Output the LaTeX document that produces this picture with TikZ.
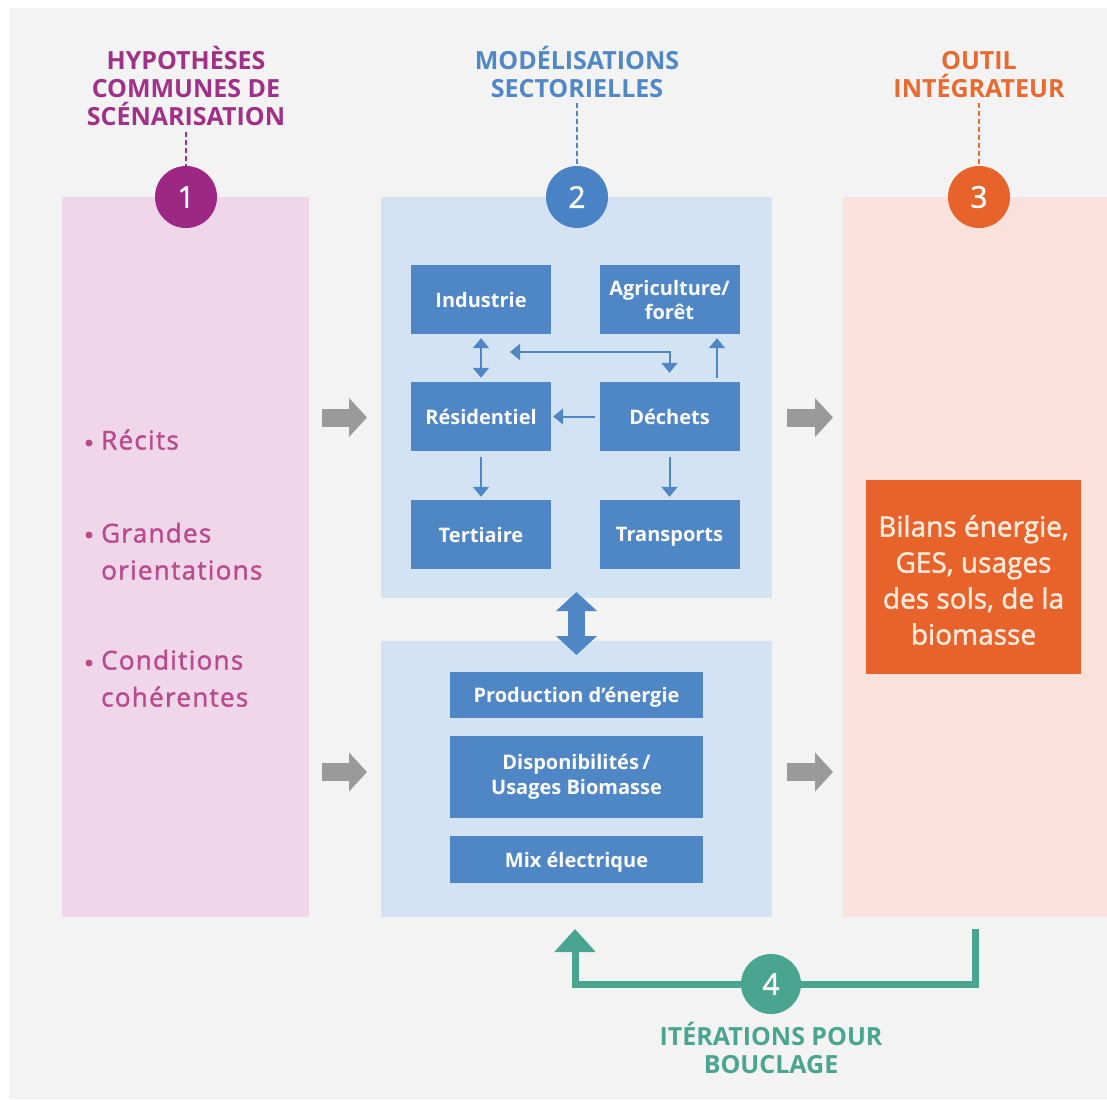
\documentclass[tikz,border=0pt]{standalone}
\usepackage{fontspec}
\setmainfont{Open Sans}
\usetikzlibrary{arrows.meta,calc}
\definecolor{bgc}{HTML}{F3F3F3}
\definecolor{pinkp}{HTML}{F0D6E9}
\definecolor{bluep}{HTML}{D4E3F3}
\definecolor{peachp}{HTML}{FAE1DB}
\definecolor{boxblue}{HTML}{4F86C6}
\definecolor{cpurple}{HTML}{9C2785}
\definecolor{hpurple}{HTML}{A03088}
\definecolor{cblue}{HTML}{4A83C5}
\definecolor{hblue}{HTML}{5088C6}
\definecolor{corange}{HTML}{E8632B}
\definecolor{horange}{HTML}{E86A30}
\definecolor{cteal}{HTML}{4AA590}
\definecolor{bulletc}{HTML}{B94A8F}
\definecolor{arrowgray}{HTML}{9A9A9A}
\definecolor{cream}{HTML}{FCEBDD}
\begin{document}
\begin{tikzpicture}[x=1pt,y=-1pt,
  panel/.style={inner sep=0, outer sep=0, draw=none},
  sbox/.style={fill=boxblue, text=white, font=\bfseries\fontsize{20}{24}\selectfont, align=center, inner sep=0, minimum width=140, minimum height=69},
  lbox/.style={fill=boxblue, text=white, font=\bfseries\fontsize{20}{25}\selectfont, align=center, inner sep=0, minimum width=253},
  num/.style={circle, inner sep=0, minimum size=62, text=white, font=\fontsize{30}{30}\selectfont\addfontfeatures{FakeBold=1.5}},
  hdr/.style={align=center, inner sep=0, anchor=south, font=\bfseries\fontsize{25}{28}\selectfont},
  btxt/.style={align=left, inner sep=0, anchor=south west, text=bulletc, font=\fontsize{26}{37}\selectfont\addfontfeatures{LetterSpace=5,FakeBold=1.5}},
  bdot/.style={circle, fill=bulletc, minimum size=7, inner sep=0},
  sarr/.style={draw=boxblue, line width=2, -{Triangle[width=16pt,length=10pt]}},
  sarrb/.style={draw=boxblue, line width=2, {Triangle[width=16pt,length=10pt]}-{Triangle[width=16pt,length=10pt]}},
  garr/.style={draw=arrowgray, line width=18, -{Triangle[width=38pt,length=18pt]}},
  dashln/.style={dash pattern=on 5pt off 3pt, line width=1.8},
  tealln/.style={draw=cteal, line width=7}
]
\useasboundingbox (0,0) rectangle (1107,1099);
\fill[white] (0,0) rectangle (1107,1099);
\fill[bgc] (9,8) rectangle (1107,1099);

% panels
\node[panel, fill=pinkp, minimum width=247, minimum height=720] (p1) at (185.5,557) {};
\node[panel, fill=bluep, minimum width=391, minimum height=401] (p2t) at (576.5,397.5) {};
\node[panel, fill=bluep, minimum width=391, minimum height=276] (p2b) at (576.5,779) {};
\node[panel, fill=peachp, minimum width=264, minimum height=720] (p3) at (975,557) {};

% headers
\node[hdr, text=hpurple] (h1) at (186,126) {HYPOTHÈSES\\COMMUNES DE\\SCÉNARISATION};
\node[hdr, text=hblue] (h2) at (577,98) {MODÉLISATIONS\\SECTORIELLES};
\node[hdr, text=horange] (h3) at (979,98) {OUTIL\\INTÉGRATEUR};

% numbered circles
\node[num, fill=cpurple] (c1) at (186,197) {1};
\node[num, fill=cblue] (c2) at (577,197) {2};
\node[num, fill=corange] (c3) at (979,197) {3};

\draw[dashln, draw=hpurple] ($(h1.south)+(0,6)$) -- (c1.north);
\draw[dashln, draw=hblue] ($(h2.south)+(0,5)$) -- (c2.north);
\draw[dashln, draw=horange] ($(h3.south)+(0,5)$) -- (c3.north);

% sector boxes
\node[sbox] (ind) at (481,299.5) {Industrie};
\node[sbox] (agr) at (669.5,299.5) {Agriculture/\\forêt};
\node[sbox] (res) at (481,416.5) {Résidentiel};
\node[sbox] (dec) at (669.5,416.5) {Déchets};
\node[sbox] (ter) at (481,534.5) {Tertiaire};
\node[sbox, text depth=0pt] (tra) at (669.5,534.5) {Transports};

\coordinate (hl) at (510,352);
\draw[sarrb, shorten <=4pt, shorten >=4pt] (ind.south) -- (res.north);
\draw[sarrb, shorten >=9pt] (hl) -| (dec.north);
\draw[sarr, shorten <=4pt, shorten >=4pt] ([xshift=47.5pt]dec.north) -- ([xshift=47.5pt]agr.south);
\draw[sarr, shorten <=4pt, shorten >=2pt] (dec.west) -- (res.east);
\draw[sarr, shorten <=6pt, shorten >=3pt] (res.south) -- (ter.north);
\draw[sarr, shorten <=6pt, shorten >=3pt] (dec.south) -- (tra.north);

% energy boxes
\node[lbox, minimum height=46, text depth=0pt] (prod) at (576.5,695) {Production d’énergie};
\node[lbox, minimum height=82] (dispo) at (576.5,777) {Disponibilités\,/\\Usages Biomasse};
\node[lbox, minimum height=47, text depth=0pt] (mix) at (576.5,859.5) {Mix électrique};

% big double arrow
\draw[draw=boxblue, line width=17, {Triangle[width=40pt,length=19pt]}-{Triangle[width=40pt,length=19pt]}, shorten <=-6pt, shorten >=-14pt] (p2t.south) -- (p2b.north);

% gray arrows
\draw[garr, shorten <=13pt, shorten >=14pt] (p1.east |- 0,417.5) -- (p2t.west |- 0,417.5);
\draw[garr, shorten <=13pt, shorten >=14pt] (p1.east |- 0,772) -- (p2b.west |- 0,772);
\draw[garr, shorten <=15pt, shorten >=10pt] (p2t.east |- 0,417.5) -- (p3.west |- 0,417.5);
\draw[garr, shorten <=15pt, shorten >=10pt] (p2b.east |- 0,772) -- (p3.west |- 0,772);

% bullets
\node[bdot] (d1) at (89,443) {};
\node[btxt] (t1) at (101,450) {Récits};
\node[bdot] (d2) at (89,535) {};
\node[btxt] (t2) at (101,580) {Grandes\\orientations};
\node[bdot] (d3) at (89,663) {};
\node[btxt] (t3) at (101,707) {Conditions\\cohérentes};

% integrator box
\node[fill=corange, minimum width=215, minimum height=194, inner sep=0] (bil) at (973.5,577) {};
\node[text=cream, inner sep=0, align=center, font=\fontsize{28}{36}\selectfont\addfontfeatures{FakeBold=1.5}] (bilt) at (973.5,580) {Bilans énergie,\\GES, usages\\des sols, de la\\biomasse};

% iteration loop
\node[num, fill=cteal, minimum size=60] (c4) at (771,984) {4};
\draw[tealln] ($(p3.south)+(0,12)$) |- (c4.east);
\draw[tealln, -{Triangle[width=40pt,length=23pt]}] (c4.west) -| ($(p2b.south)+(-1.5,12)$);
\node[hdr, text=cteal] (h4) at (771,1074) {ITÉRATIONS POUR\\BOUCLAGE};
\end{tikzpicture}
\end{document}
